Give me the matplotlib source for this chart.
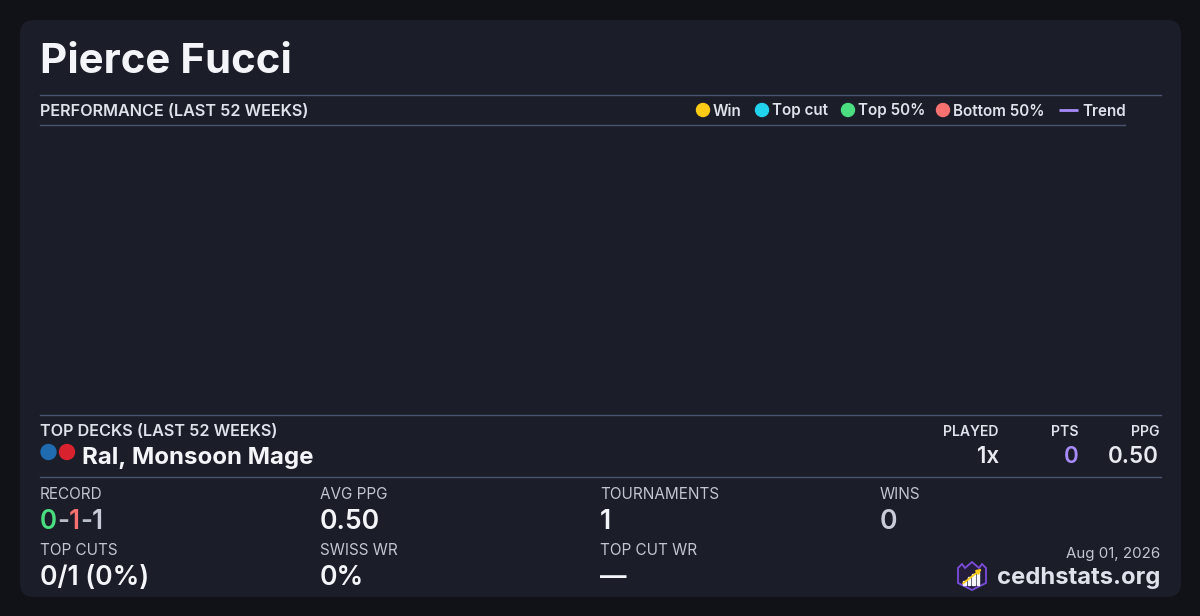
import matplotlib.pyplot as plt
from matplotlib.patches import FancyBboxPatch, Circle, Polygon, Rectangle

plt.rcParams['font.family'] = ['Inter', 'DejaVu Sans']

# data
player = "Pierce Fucci"
legend_labels = ["Win", "Top cut", "Top 50%", "Bottom 50%", "Trend"]
legend_colors = ["#facc15", "#22d3ee", "#4ade80", "#f87171", "#a78bfa"]
legend_x = [703, 762, 848, 943, 1068]

deck_name = "Ral, Monsoon Mage"
deck_colors = ["#1e6bb0", "#d8232f"]
deck_cols = ["PLAYED", "PTS", "PPG"]
deck_vals = ["1x", "0", "0.50"]
deck_val_colors = ["#e8eaf0", "#a78bfa", "#e8eaf0"]
deck_col_x = [999, 1079, 1159]

stat_labels = ["RECORD", "AVG PPG", "TOURNAMENTS", "WINS",
               "TOP CUTS", "SWISS WR", "TOP CUT WR"]
stat_values = [None, "0.50", "1", "0", "0/1 (0%)", "0%", "—"]
record = ["0", "-", "1", "-", "1"]
record_colors = ["#4ade80", "#b8bdca", "#f87171", "#b8bdca", "#c8ccd8"]
stat_x = [40, 320, 600, 880, 40, 320, 600]
stat_row = [0, 0, 0, 0, 1, 1, 1]
date_text = "Aug 01, 2026"
site = "cedhstats.org"

BG = "#111217"
CARD = "#1b1d29"
LINE = "#4a5570"
HEAD = "#dfe2ea"
LABEL = "#c2c6d1"
WHITE = "#f4f5f8"


def px(v):
    return v * 0.72


fig = plt.figure(figsize=(12, 6.16), dpi=100, facecolor=BG)
ax = fig.add_axes([0, 0, 1, 1])
ax.set_xlim(0, 1200)
ax.set_ylim(616, 0)
ax.axis('off')

card = FancyBboxPatch((20, 20), 1161, 577, boxstyle="round,pad=0,rounding_size=14",
                      facecolor=CARD, edgecolor='none')
ax.add_patch(card)

# title
ax.text(40, 73, player, fontsize=px(42), fontweight='bold', color=WHITE, va='baseline')

# performance header
ax.plot([40, 1161], [94.5, 94.5], color=LINE, lw=1)
ax.plot([40, 1125], [124.5, 124.5], color=LINE, lw=1)
ax.text(40, 116, "PERFORMANCE (LAST 52 WEEKS)", fontsize=px(16.2), fontweight='semibold',
        color=HEAD, va='baseline')

for lab, col, x in zip(legend_labels, legend_colors, legend_x):
    if lab == "Trend":
        ax.plot([x - 9, x + 10], [110, 110], color=col, lw=2, solid_capstyle='butt')
        tx = x + 14
    else:
        ax.add_patch(Circle((x, 110), 6.5, color=col))
        tx = x + 10
    ax.text(tx, 115.5, lab, fontsize=px(15.2), fontweight='semibold', color=HEAD, va='baseline')

# top decks
ax.plot([40, 1161], [414.5, 414.5], color=LINE, lw=1)
ax.text(40, 436, "TOP DECKS (LAST 52 WEEKS)", fontsize=px(16.2), fontweight='semibold',
        color=HEAD, va='baseline')
for i, c in enumerate(deck_colors):
    ax.add_patch(Circle((48.5 + i * 18.5, 452), 7.5, color=c))
ax.text(82, 464, deck_name, fontsize=px(24), fontweight='bold', color=WHITE, va='baseline')
for lab, val, vc, x in zip(deck_cols, deck_vals, deck_val_colors, deck_col_x):
    ax.text(x, 436, lab, fontsize=px(14), fontweight='semibold', color=HEAD,
            va='baseline', ha='right')
    ax.text(x, 463, val, fontsize=px(22.5), fontweight='semibold', color=vc,
            va='baseline', ha='right')
ax.plot([40, 1161], [476.5, 476.5], color=LINE, lw=1)

# stats grid
for lab, val, x, r in zip(stat_labels, stat_values, stat_x, stat_row):
    y0 = 499 + r * 56
    ax.text(x, y0, lab, fontsize=px(15.3), color=LABEL, va='baseline')
    if val is None:
        t = None
        for s, c in zip(record, record_colors):
            if t is None:
                t = ax.annotate(s, (x, y0 + 30), fontsize=px(26), fontweight='semibold',
                                color=c, va='baseline', annotation_clip=False)
            else:
                t = ax.annotate(s, xy=(1, 0), xycoords=t, fontsize=px(26),
                                fontweight='semibold', color=c, va='bottom')
    else:
        ax.text(x, y0 + 30, val, fontsize=px(26.5), fontweight='semibold',
                color=WHITE if val != "0" else "#c8ccd8", va='baseline')

# footer
ax.text(1160, 558, date_text, fontsize=px(15.1), color=LABEL, va='baseline', ha='right')
ax.text(1160, 584, site, fontsize=px(23.8), fontweight='bold', color=HEAD, va='baseline', ha='right')

shield = Polygon([(958, 568), (962, 564), (965, 568), (972, 562), (979, 568), (982, 564),
                  (986, 568), (986, 583), (972, 590), (958, 583)],
                 closed=True, facecolor="#231c3a", edgecolor="#7c4ddb", lw=1.3)
ax.add_patch(shield)
for bx, bh in zip([963, 967.5, 972, 976.5], [4, 8, 11, 13]):
    ax.add_patch(Rectangle((bx, 585 - bh), 2.6, bh, color=WHITE))
ax.annotate("", xy=(984, 567), xytext=(961, 585),
            arrowprops=dict(arrowstyle='-|>', color="#facc15", lw=1.3, mutation_scale=7))

fig.savefig("out.png", dpi=100, facecolor=BG)
